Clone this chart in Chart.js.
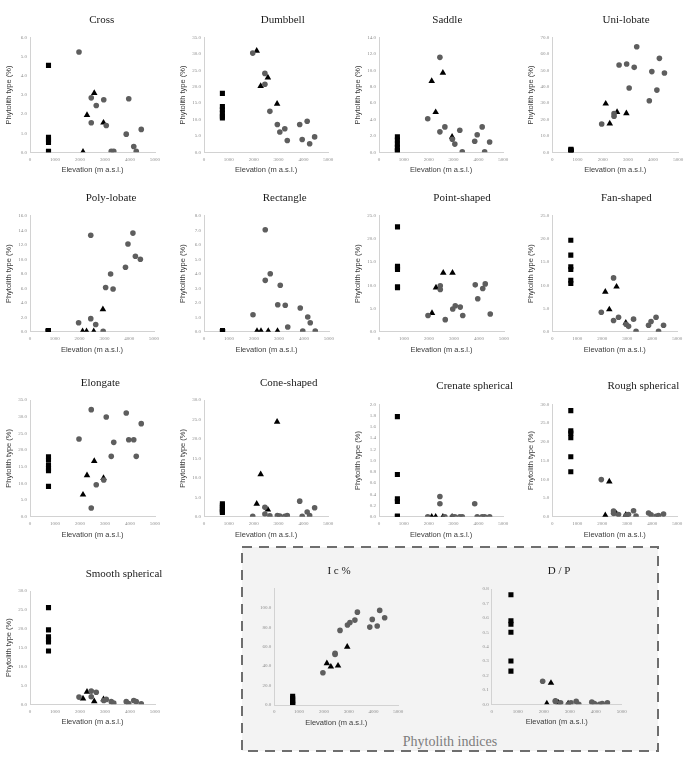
<!DOCTYPE html>
<html>
<head>
<meta charset="utf-8">
<title>Phytolith types vs elevation</title>
<script src="https://cdn.jsdelivr.net/npm/chart.js@4.4.1/dist/chart.umd.min.js"></script>
<style>
  html, body { margin: 0; padding: 0; background: #fff; }
  #page { position: relative; width: 685px; height: 765px; overflow: hidden; }
  #page canvas { position: absolute; }
  #indicesBox { position: absolute; left: 0; top: 0; }
  #indicesLabel {
    position: absolute; left: 242px; width: 416px; top: 734px; line-height: 16px;
    text-align: center; font: 14px "Liberation Serif", serif; color: #7c7c7c;
  }
</style>
</head>
<body>
<div id="page">
  <svg id="indicesBox" width="685" height="765">
    <rect x="242" y="547" width="416" height="204" fill="#f3f3f3" stroke="#6e6e6e" stroke-width="2" stroke-dasharray="10 7"/>
  </svg>
  <div id="indicesLabel">Phytolith indices</div>
</div>

<script>
// ---- elevations (m a.s.l.) shared by every panel ----
const sqElev   = [740, 740, 740, 740, 740, 740];
const triElev  = [2120, 2280, 2570, 2940];
const circElev = [1960, 2450, 2450, 2650, 2950, 3050, 3250, 3350, 3850, 3950, 4150, 4250, 4450];
const xTicks   = [0, 1000, 2000, 3000, 4000, 5000];

// ---- phytolith type (%) : squares / triangles / circles ----
const crossSq   = [4.55, 0.78, 0.65, 0.52, 0.05, 0.02];
const crossTri  = [0.02, 1.95, 3.1, 1.55];
const crossCirc = [5.25, 2.85, 1.55, 2.45, 2.75, 1.4, 0.05, 0.05, 0.95, 2.8, 0.3, 0.05, 1.2];

const dumbSq   = [18.0, 14.0, 13.0, 12.0, 11.0, 10.5];
const dumbTri  = [31.0, 20.2, 22.8, 14.8];
const dumbCirc = [30.3, 24.1, 20.8, 12.5, 8.5, 6.2, 7.2, 3.6, 8.5, 3.9, 9.5, 2.6, 4.7];

const saddleSq   = [1.9, 1.5, 1.0, 0.6, 0.2, 0.02];
const saddleTri  = [8.7, 4.9, 9.7, 1.9];
const saddleCirc = [4.1, 11.6, 2.5, 3.1, 1.6, 1.0, 2.7, 0.05, 1.35, 2.15, 3.1, 0.05, 1.25];

const uniSq   = [1.8, 1.5, 1.0, 0.8, 0.5, 0.2];
const uniTri  = [29.7, 17.5, 24.6, 23.8];
const uniCirc = [17.3, 23.6, 22.0, 53.3, 53.9, 39.3, 51.9, 64.5, 31.5, 49.3, 38.0, 57.4, 48.4];

const polySq   = [0.15, 0.1, 0.1, 0.05, 0.05, 0.02];
const polyTri  = [0.05, 0.05, 0.05, 3.1];
const polyCirc = [1.24, 1.8, 13.3, 1.0, 0.05, 6.1, 7.95, 5.9, 8.9, 12.1, 13.6, 10.4, 10.0];

const rectSq   = [0.05, 0.05, 0.05, 0.05, 0.05, 0.05];
const rectTri  = [0.05, 0.05, 0.05, 0.05];
const rectCirc = [1.17, 7.03, 3.54, 4.0, 1.86, 3.2, 1.82, 0.32, 1.63, 0.05, 1.01, 0.62, 0.05];

const pointSq   = [22.6, 14.1, 13.8, 13.4, 9.7, 9.5];
const pointTri  = [4.0, 9.5, 12.7, 12.7];
const pointCirc = [3.5, 9.9, 9.1, 2.6, 4.9, 5.6, 5.3, 3.5, 10.1, 7.1, 9.3, 10.3, 3.8];

const fanSq   = [19.7, 16.5, 14.0, 13.4, 11.1, 10.4];
const fanTri  = [8.6, 4.8, 9.7, 1.9];
const fanCirc = [4.2, 11.6, 2.4, 3.1, 1.6, 1.15, 2.7, 0.1, 1.4, 2.2, 3.1, 0.1, 1.4];

const elongSq   = [18.0, 17.0, 15.5, 14.5, 13.8, 9.1];
const elongTri  = [6.6, 12.4, 16.7, 11.6];
const elongCirc = [23.3, 32.1, 2.6, 9.6, 11.0, 29.9, 18.1, 22.3, 31.1, 23.1, 23.1, 18.1, 27.9];

const coneSq   = [3.3, 2.8, 2.3, 1.8, 1.4, 1.1];
const coneTri  = [3.3, 10.9, 1.8, 24.4];
const coneCirc = [0.1, 2.4, 0.7, 0.2, 0.3, 0.15, 0.1, 0.3, 4.0, 0.1, 1.2, 0.3, 2.3];

const crenSq   = [1.78, 0.75, 0.32, 0.27, 0.01, 0.0];
const crenTri  = [0, 0, 0, 0];
const crenCirc = [0, 0.36, 0.23, 0, 0, 0, 0, 0, 0.23, 0, 0, 0, 0];

const roughSq   = [28.3, 22.9, 22.3, 21.1, 16.0, 12.0];
const roughTri  = [0.35, 9.4, 0.8, 0.5];
const roughCirc = [9.9, 1.5, 0.9, 0.6, 0.3, 0.6, 1.6, 0.2, 1.0, 0.5, 0.1, 0.3, 0.7];

const smoothSq   = [25.6, 19.7, 17.9, 17.2, 16.5, 14.1];
const smoothTri  = [1.5, 3.3, 0.8, 1.3];
const smoothCirc = [1.9, 3.5, 2.0, 3.2, 1.0, 1.3, 0.7, 0.3, 0.7, 0.2, 1.0, 0.7, 0.15];

// ---- phytolith indices ----
const icSq   = [9.0, 7.0, 5.0, 3.0, 1.5, 0.5];
const icTri  = [42.8, 39.4, 40.4, 59.9];
const icCirc = [33.2, 53.1, 52.0, 76.7, 82.2, 84.9, 87.3, 95.5, 80.1, 88.0, 81.2, 97.3, 89.7];

const dpSq   = [0.76, 0.58, 0.555, 0.5, 0.3, 0.23];
const dpTri  = [0.005, 0.148, 0.01, 0.005];
const dpCirc = [0.16, 0.025, 0.02, 0.01, 0.0, 0.01, 0.02, 0.0, 0.015, 0.005, 0.0, 0.005, 0.01];

(function () {
  // page placement of each panel: x0/x1 = x of 0 and 5000, yTop/yZero = y of max and 0, tx/ty = title centre
  const panels = [
    { title: 'Cross',      sq: crossSq,  tri: crossTri,  circ: crossCirc,  yMax: 6,  step: 1,  x0: 30,    x1: 155,   yTop: 37.7,  yZero: 152.3, tx: 101.7, ty: 20 },
    { title: 'Dumbbell',   sq: dumbSq,   tri: dumbTri,   circ: dumbCirc,   yMax: 35, step: 5,  x0: 204,   x1: 328.3, yTop: 37.7,  yZero: 152.3, tx: 282.7, ty: 20 },
    { title: 'Saddle',     sq: saddleSq, tri: saddleTri, circ: saddleCirc, yMax: 14, step: 2,  x0: 379,   x1: 503.3, yTop: 37.7,  yZero: 152.3, tx: 447.3, ty: 20 },
    { title: 'Uni-lobate', sq: uniSq,    tri: uniTri,    circ: uniCirc,    yMax: 70, step: 10, x0: 552.3, x1: 678.3, yTop: 37.7,  yZero: 152.3, tx: 626,   ty: 20 },

    { title: 'Poly-lobate',  sq: polySq,  tri: polyTri,  circ: polyCirc,  yMax: 16, step: 2, x0: 30,    x1: 154,   yTop: 215.7, yZero: 331.7, tx: 111,   ty: 198.5 },
    { title: 'Rectangle',    sq: rectSq,  tri: rectTri,  circ: rectCirc,  yMax: 8,  step: 1, x0: 204,   x1: 329,   yTop: 215.7, yZero: 331.7, tx: 284.7, ty: 198.5 },
    { title: 'Point-shaped', sq: pointSq, tri: pointTri, circ: pointCirc, yMax: 25, step: 5, x0: 379,   x1: 504,   yTop: 215.7, yZero: 331.7, tx: 462,   ty: 198.5 },
    { title: 'Fan-shaped',   sq: fanSq,   tri: fanTri,   circ: fanCirc,   yMax: 25, step: 5, x0: 552.3, x1: 677.3, yTop: 215.7, yZero: 331.7, tx: 626.3, ty: 198.5 },

    { title: 'Elongate',          sq: elongSq, tri: elongTri, circ: elongCirc, yMax: 35, step: 5,   x0: 30,    x1: 155,   yTop: 400,   yZero: 516.7, tx: 100.3, ty: 383.5 },
    { title: 'Cone-shaped',       sq: coneSq,  tri: coneTri,  circ: coneCirc,  yMax: 30, step: 5,   x0: 204,   x1: 328.3, yTop: 400,   yZero: 516.7, tx: 288.7, ty: 383.5 },
    { title: 'Crenate spherical', sq: crenSq,  tri: crenTri,  circ: crenCirc,  yMax: 2,  step: 0.2, x0: 379,   x1: 503.3, yTop: 404.3, yZero: 516.7, tx: 474.7, ty: 386 },
    { title: 'Rough spherical',   sq: roughSq, tri: roughTri, circ: roughCirc, yMax: 30, step: 5,   x0: 552.3, x1: 677.3, yTop: 404.3, yZero: 516.7, tx: 643.3, ty: 386 },

    { title: 'Smooth spherical', sq: smoothSq, tri: smoothTri, circ: smoothCirc, yMax: 30,  step: 5,   x0: 30,    x1: 155,   yTop: 591,   yZero: 704.3, tx: 124, ty: 574 },
    { title: 'I c %',            sq: icSq,     tri: icTri,     circ: icCirc,     yMax: 120, step: 20,  x0: 274.3, x1: 398.3, yTop: 588.3, yZero: 705,   tx: 339, ty: 571, noYTitle: true, hideTop: true },
    { title: 'D / P',            sq: dpSq,     tri: dpTri,     circ: dpCirc,     yMax: 0.8, step: 0.1, x0: 491.7, x1: 621.7, yTop: 589,   yZero: 704.3, tx: 559, ty: 571, noYTitle: true }
  ];

  const W = 170;
  const tickFont  = { family: '"Liberation Serif", serif', size: 5 };
  const axisFont  = { family: '"Liberation Sans", sans-serif', size: 7.5 };
  const tickColor = '#8c8c8c';
  const axisColor = '#d2d2d2';
  const page = document.getElementById('page');

  const pts = (xs, ys) => ys.map((v, i) => ({ x: xs[i], y: v }));

  function makePanel(p) {
    const left = Math.round(p.x0 - 30);
    const top  = Math.round(p.ty - 12);
    const h    = Math.round(p.yZero - top + 26);
    const plotBottom = p.yZero - top;

    const cv = document.createElement('canvas');
    cv.width = W; cv.height = h;
    cv.style.left = left + 'px';
    cv.style.top = top + 'px';
    cv.style.width = W + 'px';
    cv.style.height = h + 'px';
    page.appendChild(cv);

    // titles drawn on the canvas at the same spot as the original figure
    const titlePlugin = {
      id: 'panelTitle',
      afterDraw(chart) {
        const c = chart.ctx;
        c.save();
        c.font = '11px "Liberation Serif", serif';
        c.fillStyle = '#1a1a1a';
        c.textAlign = 'center';
        c.textBaseline = 'middle';
        c.fillText(p.title, p.tx - left, p.ty - top);
        c.restore();
      }
    };

    return new Chart(cv.getContext('2d'), {
      type: 'scatter',
      data: {
        datasets: [
          { data: pts(circElev, p.circ), pointStyle: 'circle', pointRadius: 2.8, backgroundColor: '#5e5e5e', borderWidth: 0 },
          { data: pts(triElev, p.tri), pointStyle: 'triangle', pointRadius: 3.8, backgroundColor: '#000', borderWidth: 0 },
          { data: pts(sqElev, p.sq), pointStyle: 'rect', pointRadius: 3.6, backgroundColor: '#000', borderWidth: 0 }
        ]
      },
      options: {
        responsive: false,
        animation: false,
        events: [],
        layout: { padding: { left: 0, top: p.yTop - top, right: W - (p.x1 - left), bottom: 0 } },
        plugins: { legend: { display: false }, tooltip: { enabled: false } },
        scales: {
          x: {
            type: 'linear', min: 0, max: 5000,
            afterBuildTicks: (s) => { s.ticks = xTicks.map(v => ({ value: v })); },
            ticks: { font: tickFont, color: tickColor, padding: 4, maxRotation: 0, callback: v => String(v) },
            grid: { display: false, drawTicks: false },
            border: { display: true, color: axisColor },
            title: { display: true, text: 'Elevation (m a.s.l.)', font: axisFont, color: '#3a3a3a', padding: { top: 0, bottom: 3.5 } },
            afterFit: (s) => { s.height = h - plotBottom; }
          },
          y: {
            type: 'linear', min: 0, max: p.yMax,
            ticks: {
              stepSize: p.step, font: tickFont, color: tickColor, padding: 3,
              callback: v => (p.hideTop && v === p.yMax) ? '' : Number(v).toFixed(1)
            },
            grid: { display: false, drawTicks: false },
            border: { display: true, color: axisColor },
            title: { display: !p.noYTitle, text: 'Phytolith type (%)', font: axisFont, color: '#3a3a3a', padding: { top: 4, bottom: 0 } },
            afterFit: (s) => { s.width = p.x0 - left; }
          }
        }
      },
      plugins: [titlePlugin]
    });
  }

  panels.forEach(makePanel);
})();
</script>
</body>
</html>
